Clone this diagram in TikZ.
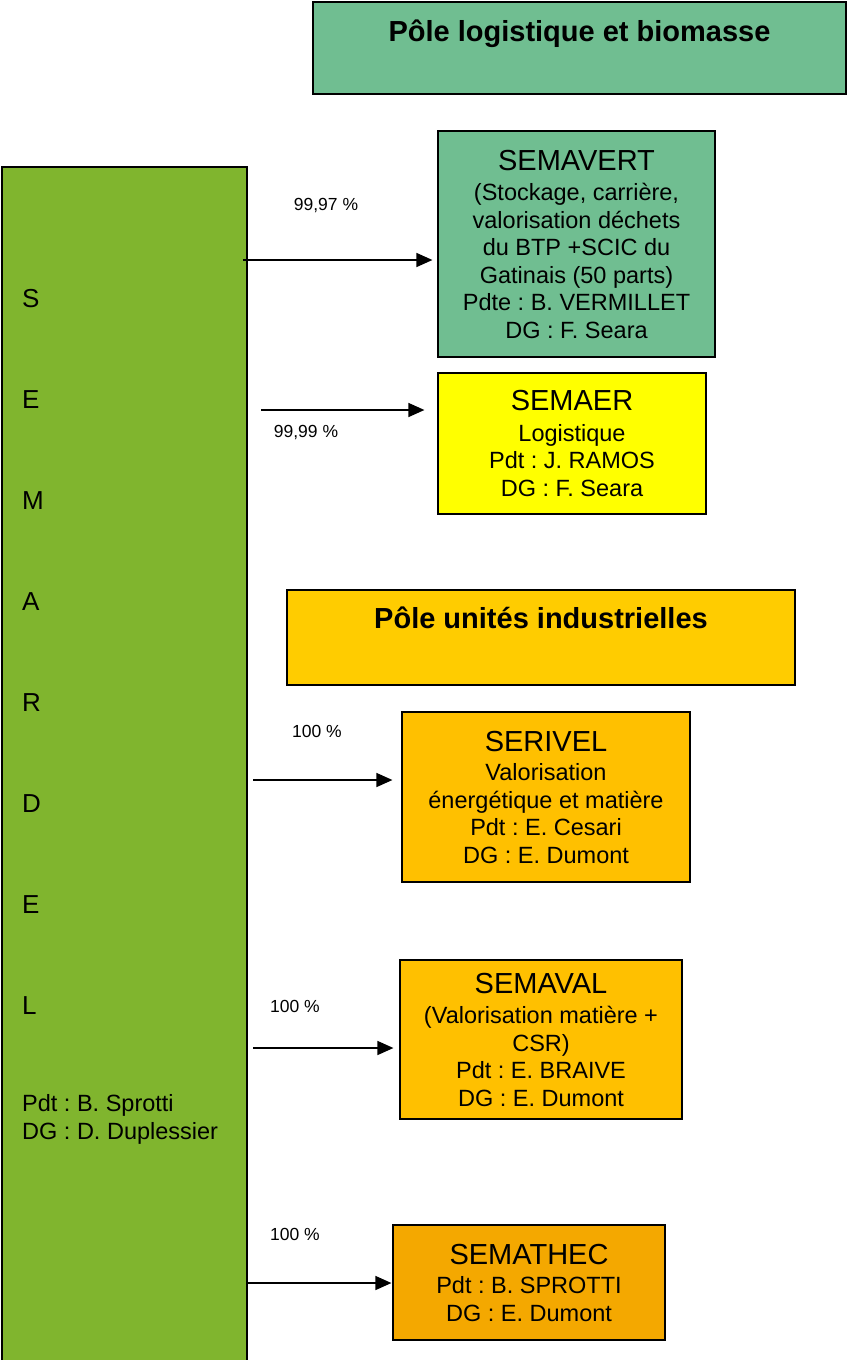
\documentclass[tikz,border=0pt]{standalone}
\usepackage{fontspec}
\setmainfont{Liberation Sans}
\usetikzlibrary{arrows.meta}
\frenchspacing

\definecolor{vertpole}{RGB}{112,190,145}
\definecolor{vertsem}{RGB}{128,181,46}
\definecolor{jaune}{RGB}{255,255,0}
\definecolor{orpole}{RGB}{255,204,0}
\definecolor{orfil}{RGB}{255,192,0}
\definecolor{orfonce}{RGB}{244,168,0}
\newcommand{\nomfil}{\fontsize{29}{33}\selectfont}
\newcommand{\txtfil}{\fontsize{23.5}{27.5}\selectfont}

\tikzset{
  boite/.style={draw, line width=1.2pt, align=center, inner sep=0pt, font=\txtfil},
  pole/.style={draw, line width=1.2pt, inner sep=0pt},
  pct/.style={font=\fontsize{17.5}{20}\selectfont, inner sep=0pt},
  lettre/.style={anchor=base west, inner sep=0pt, font=\txtfil},
  fleche/.style={line width=1.5pt, -{Triangle[length=16pt,width=14pt]}}
}

\begin{document}
\begin{tikzpicture}[x=1pt, y=-1pt]
  \useasboundingbox (0,0) rectangle (847,1360);
  % SEMARDEL
  \node[pole, fill=vertsem, minimum width=245, minimum height=1208] (semardel) at (124.5,771) {};
  \foreach \l [count=\i from 0] in {S,E,M,A,R,D,E,L}
    \node[lettre, font=\fontsize{26}{30}\selectfont] (lettre\i) at (22,{307.5+101*\i}) {\l};
  \node[lettre] (pdtsem) at (22,1111.5) {Pdt : B. Sprotti};
  \node[lettre] (dgsem) at (22,1139.5) {DG : D. Duplessier};
  % poles
  \node[pole, fill=vertpole, minimum width=533, minimum height=92,
    label={[anchor=base, yshift=-40.5pt, font=\bfseries\nomfil]north:Pôle logistique et biomasse}]
    (polelog) at (579.5,48) {};
  \node[pole, fill=orpole, minimum width=508, minimum height=95,
    label={[anchor=base, yshift=-39.5pt, font=\bfseries\nomfil]north:Pôle unités industrielles}]
    (poleind) at (541,637.5) {};
  % filiales
  \node[boite, fill=vertpole, minimum width=277, minimum height=226] (semavert) at (576.5,244)
    {{\nomfil SEMAVERT}\\[3pt] (Stockage, carrière,\\ valorisation déchets\\ du BTP +SCIC du\\
     Gatinais (50 parts)\\ Pdte : B. VERMILLET\\ DG : F. Seara};
  \node[boite, fill=jaune, minimum width=268, minimum height=141] (semaer) at (572,443.5)
    {{\nomfil SEMAER}\\[3pt] Logistique\\ Pdt : J. RAMOS\\ DG : F. Seara};
  \node[boite, fill=orfil, minimum width=288, minimum height=170] (serivel) at (546,797)
    {{\nomfil SERIVEL}\\[2pt] Valorisation\\ énergétique et matière\\ Pdt : E. Cesari\\ DG : E. Dumont};
  \node[boite, fill=orfil, minimum width=282, minimum height=159] (semaval) at (541,1039.5)
    {{\nomfil SEMAVAL}\\[3pt] (Valorisation matière +\\ CSR)\\ Pdt : E. BRAIVE\\ DG : E. Dumont};
  \node[boite, fill=orfonce, minimum width=272, minimum height=115] (semathec) at (529,1282.5)
    {{\nomfil SEMATHEC}\\[2pt] Pdt : B. SPROTTI\\ DG : E. Dumont};
  % participations
  \coordinate (d1) at (243,260);
  \coordinate (d2) at (261,410);
  \coordinate (d3) at (253,780);
  \coordinate (d4) at (253,1048);
  \coordinate (d5) at (247,1283);
  \draw[fleche] (d1) -- ([xshift=-5pt]semavert.west |- d1);
  \draw[fleche] (d2) -- ([xshift=-13pt]semaer.west |- d2);
  \draw[fleche] (d3) -- ([xshift=-9pt]serivel.west |- d3);
  \draw[fleche] (d4) -- ([xshift=-6pt]semaval.west |- d4);
  \draw[fleche] (d5) -- ([xshift=-1pt]semathec.west |- d5);
  \node[pct] (p1) at (326,206) {99,97 \%};
  \node[pct] (p2) at (306,433) {99,99 \%};
  \node[pct] (p3) at (317,731) {100 \%};
  \node[pct] (p4) at (295,1006) {100 \%};
  \node[pct] (p5) at (295,1234) {100 \%};
\end{tikzpicture}
\end{document}
